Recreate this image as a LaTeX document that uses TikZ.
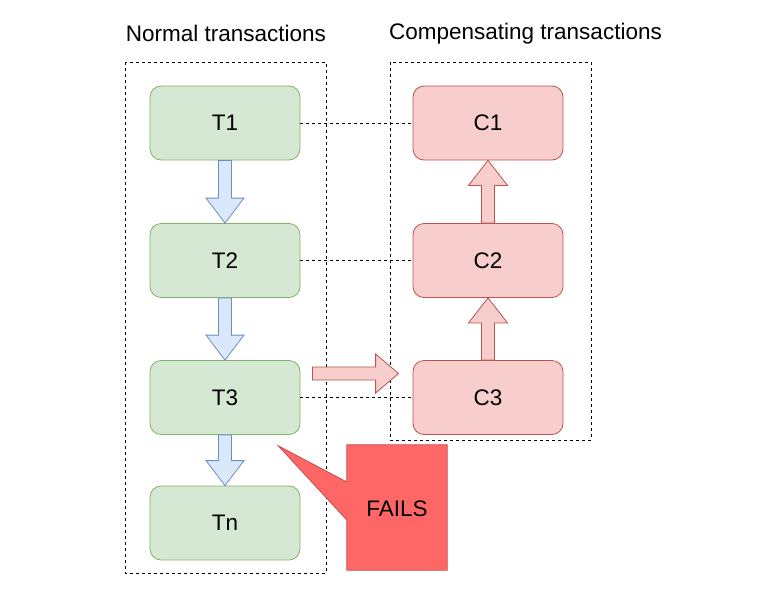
\documentclass[tikz,border=0pt]{standalone}
\usepackage{fontspec}
\setmainfont{Liberation Sans}
\usepackage{tikz}
\usetikzlibrary{positioning,calc}
\definecolor{normalfill}{HTML}{D5E8D4}
\definecolor{normaldraw}{HTML}{82B366}
\definecolor{compfill}{HTML}{F8CECC}
\definecolor{compdraw}{HTML}{B85450}
\definecolor{flowfill}{HTML}{DAE8FC}
\definecolor{flowdraw}{HTML}{6C8EBF}
\definecolor{failfill}{HTML}{FF6666}
\definecolor{faildraw}{HTML}{C44A4A}

\begin{document}
\begin{tikzpicture}[x=1pt, y=-1pt,
    every node/.style={font=\fontsize{22.5}{27}\selectfont},
    txbox/.style={rectangle, rounded corners=11pt, minimum width=150pt, minimum height=74pt, line width=0.8pt},
    normaltx/.style={txbox, fill=normalfill, draw=normaldraw},
    comptx/.style={txbox, fill=compfill, draw=compdraw},
    groupbox/.style={draw=black, line width=0.8pt, dash pattern=on 3pt off 3pt},
    pairline/.style={draw=black, line width=0.8pt, dash pattern=on 3pt off 3pt},
    flowarrow/.style={fill=flowfill, draw=flowdraw, line width=0.8pt, line join=miter},
    undoarrow/.style={fill=compfill, draw=compdraw, line width=0.8pt, line join=miter}]
    \useasboundingbox (0,0) rectangle (775,597);

    % Group frames and titles
    \draw[groupbox] (125,62) rectangle (326,573);
    \draw[groupbox] (390,62) rectangle (591,440);
    \node (normaltitle) at (226,33.5) {Normal transactions};
    \node (comptitle) at (525.5,33.5) {Compensating transactions};

    % Normal transactions
    \node[normaltx] (T1) at (225,123) {T1};
    \node[normaltx] (T2) at (225,260.5) {T2};
    \node[normaltx] (T3) at (225,397.5) {T3};
    \node[normaltx] (Tn) at (225,523) {Tn};

    % Compensating transactions
    \node[comptx] (C1) at (488,123) {C1};
    \node[comptx] (C2) at (488,260.5) {C2};
    \node[comptx] (C3) at (488,397.5) {C3};

    % Pairing lines
    \draw[pairline] (T1.east) -- (C1.west);
    \draw[pairline] (T2.east) -- (C2.west);
    \draw[pairline] (T3.east) -- (C3.west);

    % Forward flow (block arrows)
    \foreach \a/\b in {T1/T2, T2/T3, T3/Tn}
        \draw[flowarrow] ($(\a.south)+(-6.5,0)$) -- ($(\a.south)+(6.5,0)$)
            -- ($(\b.north)+(6.5,-25)$) -- ($(\b.north)+(19,-25)$) -- (\b.north)
            -- ($(\b.north)+(-19,-25)$) -- ($(\b.north)+(-6.5,-25)$) -- cycle;

    % Compensation flow (block arrows)
    \foreach \a/\b in {C3/C2, C2/C1}
        \draw[undoarrow] ($(\a.north)+(-6.5,0)$) -- ($(\a.north)+(6.5,0)$)
            -- ($(\b.south)+(6.5,25)$) -- ($(\b.south)+(19.5,25)$) -- (\b.south)
            -- ($(\b.south)+(-19.5,25)$) -- ($(\b.south)+(-6.5,25)$) -- cycle;

    % Switch over to compensation
    \coordinate (undostart) at ($(T3.east)+(12,-24)$);
    \coordinate (undotip) at ($(C3.west)+(-14,-24)$);
    \draw[undoarrow] ($(undostart)+(0,-6.5)$) -- ($(undotip)+(-23,-6.5)$)
        -- ($(undotip)+(-23,-19.5)$) -- (undotip) -- ($(undotip)+(-23,19.5)$)
        -- ($(undotip)+(-23,6.5)$) -- ($(undostart)+(0,6.5)$) -- cycle;

    % Failure callout
    \coordinate (failtip) at ($(T3.south east)+(-22,11)$);
    \node[minimum width=100pt, minimum height=125pt, inner sep=0pt] (fails) at (397,507.5) {};
    \draw[fill=failfill, draw=faildraw, line width=0.8pt, line join=miter]
        (fails.north west) -- (fails.north east) -- (fails.south east) -- (fails.south west)
        -- ($(fails.west)+(0,12.5)$) -- (failtip) -- ($(fails.west)+(0,-25.5)$) -- cycle;
    \node (failtext) at ($(fails.center)+(0,1)$) {FAILS};
\end{tikzpicture}
\end{document}
